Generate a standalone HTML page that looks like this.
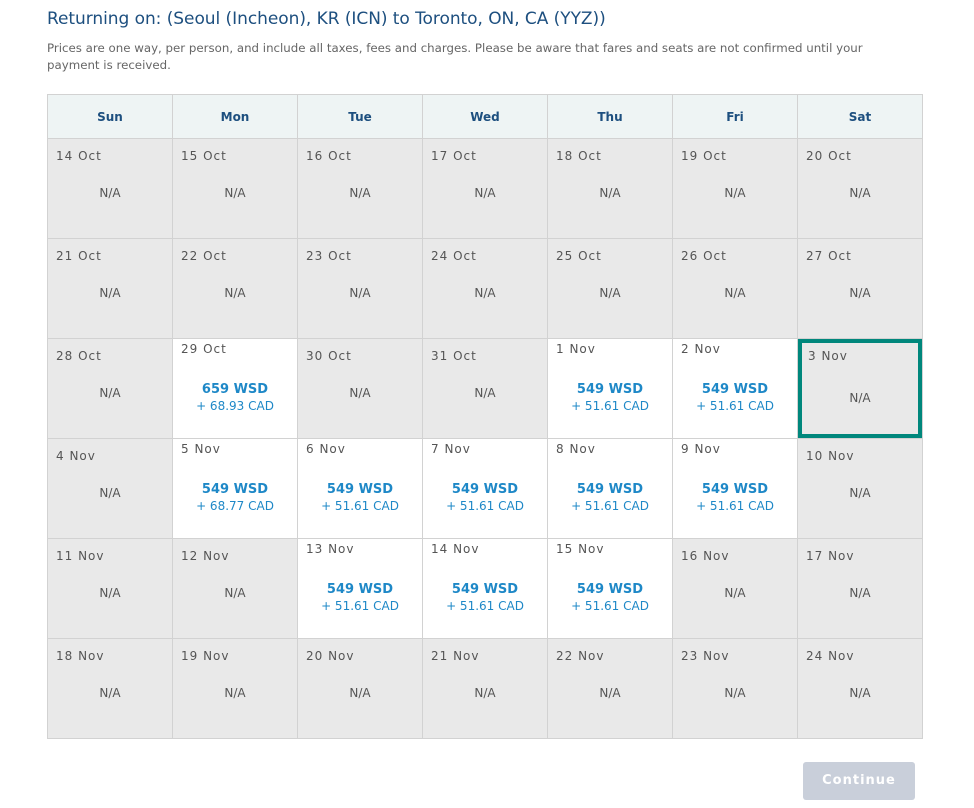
<!DOCTYPE html>
<html><head><style>
body{margin:0;width:974px;height:808px;background:#fff;font-family:"DejaVu Sans",Verdana,sans-serif;position:relative;overflow:hidden}
h1{position:absolute;left:47px;top:9px;margin:0;font-weight:normal;font-size:17px;color:#1d4f7f;font-family:"DejaVu Sans",sans-serif;letter-spacing:-0.05px}
p.note{position:absolute;left:47px;top:40px;margin:0;width:860px;font-size:11.8px;line-height:17px;color:#666}
table{position:absolute;left:47px;top:94px;border-collapse:collapse;table-layout:fixed;width:875px}
td,th{border:1px solid #d2d2d2;padding:0;width:124px}
th{height:43px;background:#eef4f4;color:#1d4f7f;font-size:12px;font-weight:bold}
td{height:99px;background:#e9e9e9;vertical-align:top}
td.a{background:#fff}
.c{position:relative;height:99px}
.d{position:absolute;left:8px;top:10px;font-size:12px;color:#555;letter-spacing:1px}
.n{position:absolute;left:0;right:0;top:47px;text-align:center;font-size:12px;color:#555}
.p{position:absolute;left:0;right:0;top:42px;text-align:center;color:#1e88c7;font-size:12px;line-height:17px}
.p b{font-size:13px}
.a .d{top:3px}
.s{outline:4px solid #00877c;outline-offset:-4px}
.s .d{top:10px;left:10px}
.s .n{top:52px}
.btn{position:absolute;left:803px;top:762px;width:112px;height:38px;border-radius:3px;background:#c9cfda;color:#fff;font-size:13px;font-weight:bold;text-align:center;line-height:38px;letter-spacing:1px}
</style></head><body>
<h1>Returning on: (Seoul (Incheon), KR (ICN) to Toronto, ON, CA (YYZ))</h1>
<p class="note">Prices are one way, per person, and include all taxes, fees and charges. Please be aware that fares and seats are not confirmed until your payment is received.</p>
<table>
<tr><th>Sun</th><th>Mon</th><th>Tue</th><th>Wed</th><th>Thu</th><th>Fri</th><th>Sat</th></tr>
<tr>
<td><div class="c"><div class="d">14 Oct</div><div class="n">N/A</div></div></td>
<td><div class="c"><div class="d">15 Oct</div><div class="n">N/A</div></div></td>
<td><div class="c"><div class="d">16 Oct</div><div class="n">N/A</div></div></td>
<td><div class="c"><div class="d">17 Oct</div><div class="n">N/A</div></div></td>
<td><div class="c"><div class="d">18 Oct</div><div class="n">N/A</div></div></td>
<td><div class="c"><div class="d">19 Oct</div><div class="n">N/A</div></div></td>
<td><div class="c"><div class="d">20 Oct</div><div class="n">N/A</div></div></td>
</tr>
<tr>
<td><div class="c"><div class="d">21 Oct</div><div class="n">N/A</div></div></td>
<td><div class="c"><div class="d">22 Oct</div><div class="n">N/A</div></div></td>
<td><div class="c"><div class="d">23 Oct</div><div class="n">N/A</div></div></td>
<td><div class="c"><div class="d">24 Oct</div><div class="n">N/A</div></div></td>
<td><div class="c"><div class="d">25 Oct</div><div class="n">N/A</div></div></td>
<td><div class="c"><div class="d">26 Oct</div><div class="n">N/A</div></div></td>
<td><div class="c"><div class="d">27 Oct</div><div class="n">N/A</div></div></td>
</tr>
<tr>
<td><div class="c"><div class="d">28 Oct</div><div class="n">N/A</div></div></td>
<td class="a"><div class="c"><div class="d">29 Oct</div><div class="p"><b>659 WSD</b><br>+ 68.93 CAD</div></div></td>
<td><div class="c"><div class="d">30 Oct</div><div class="n">N/A</div></div></td>
<td><div class="c"><div class="d">31 Oct</div><div class="n">N/A</div></div></td>
<td class="a"><div class="c"><div class="d">1 Nov</div><div class="p"><b>549 WSD</b><br>+ 51.61 CAD</div></div></td>
<td class="a"><div class="c"><div class="d">2 Nov</div><div class="p"><b>549 WSD</b><br>+ 51.61 CAD</div></div></td>
<td><div class="c s"><div class="d">3 Nov</div><div class="n">N/A</div></div></td>
</tr>
<tr>
<td><div class="c"><div class="d">4 Nov</div><div class="n">N/A</div></div></td>
<td class="a"><div class="c"><div class="d">5 Nov</div><div class="p"><b>549 WSD</b><br>+ 68.77 CAD</div></div></td>
<td class="a"><div class="c"><div class="d">6 Nov</div><div class="p"><b>549 WSD</b><br>+ 51.61 CAD</div></div></td>
<td class="a"><div class="c"><div class="d">7 Nov</div><div class="p"><b>549 WSD</b><br>+ 51.61 CAD</div></div></td>
<td class="a"><div class="c"><div class="d">8 Nov</div><div class="p"><b>549 WSD</b><br>+ 51.61 CAD</div></div></td>
<td class="a"><div class="c"><div class="d">9 Nov</div><div class="p"><b>549 WSD</b><br>+ 51.61 CAD</div></div></td>
<td><div class="c"><div class="d">10 Nov</div><div class="n">N/A</div></div></td>
</tr>
<tr>
<td><div class="c"><div class="d">11 Nov</div><div class="n">N/A</div></div></td>
<td><div class="c"><div class="d">12 Nov</div><div class="n">N/A</div></div></td>
<td class="a"><div class="c"><div class="d">13 Nov</div><div class="p"><b>549 WSD</b><br>+ 51.61 CAD</div></div></td>
<td class="a"><div class="c"><div class="d">14 Nov</div><div class="p"><b>549 WSD</b><br>+ 51.61 CAD</div></div></td>
<td class="a"><div class="c"><div class="d">15 Nov</div><div class="p"><b>549 WSD</b><br>+ 51.61 CAD</div></div></td>
<td><div class="c"><div class="d">16 Nov</div><div class="n">N/A</div></div></td>
<td><div class="c"><div class="d">17 Nov</div><div class="n">N/A</div></div></td>
</tr>
<tr>
<td><div class="c"><div class="d">18 Nov</div><div class="n">N/A</div></div></td>
<td><div class="c"><div class="d">19 Nov</div><div class="n">N/A</div></div></td>
<td><div class="c"><div class="d">20 Nov</div><div class="n">N/A</div></div></td>
<td><div class="c"><div class="d">21 Nov</div><div class="n">N/A</div></div></td>
<td><div class="c"><div class="d">22 Nov</div><div class="n">N/A</div></div></td>
<td><div class="c"><div class="d">23 Nov</div><div class="n">N/A</div></div></td>
<td><div class="c"><div class="d">24 Nov</div><div class="n">N/A</div></div></td>
</tr>
</table>
<div class="btn">Continue</div>
</body></html>
